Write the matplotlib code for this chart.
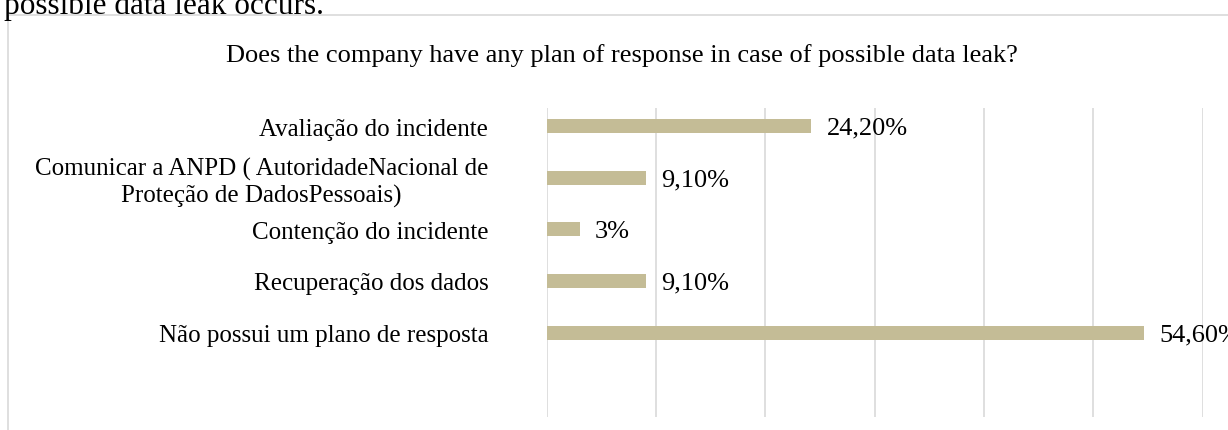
import matplotlib
matplotlib.use('Agg')
import matplotlib.pyplot as plt
import matplotlib.patches as mpatches
import numpy as np

plt.rcParams['font.family'] = ['Liberation Serif', 'DejaVu Serif']

categories = [
    'Avaliação do incidente',
    'Comunicar a ANPD ( AutoridadeNacional de\nProteção de DadosPessoais)',
    'Contenção do incidente',
    'Recuperação dos dados',
    'Não possui um plano de resposta',
]
values = [24.2, 9.1, 3.0, 9.1, 54.6]
value_labels = ['24,20%', '9,10%', '3%', '9,10%', '54,60%']

title = 'Does the company have any plan of response in case of possible data leak?'
top_text = 'possible data leak occurs.'

W, H = 1228, 431
fig = plt.figure(figsize=(W / 100, H / 100), dpi=100)

# outer border of the embedded chart
border = mpatches.Rectangle((7.5 / W, -0.1), 1.2, 1 - 15.5 / H + 0.1,
                            transform=fig.transFigure, fill=False,
                            edgecolor='#D9D9D9', linewidth=1.2)
fig.patches.append(border)

fig.text(4 / W, 1 - 14 / H, top_text, fontsize=22.5, va='baseline', ha='left')
fig.text(622 / W, 1 - 62 / H, title, fontsize=19, va='baseline', ha='center')

ax = fig.add_axes([546.7 / W, 1 - 418 / H, 656 / W, 309 / H])
y = np.arange(len(categories))
bars = ax.barh(y, values, height=0.27, color='#C4BC96')

ax.set_xlim(0, 60)
ax.set_ylim(5.634, -0.3485)
ax.set_xticks(np.arange(0, 61, 10))
ax.set_xticklabels([])
ax.tick_params(axis='x', length=0)
ax.grid(axis='x', color='#D9D9D9', linewidth=1.2)
ax.set_axisbelow(True)
for s in ax.spines.values():
    s.set_visible(False)

ax.set_yticks(y)
ax.set_yticklabels(categories, fontsize=18)
ax.tick_params(axis='y', length=0, pad=42)
for lab in ax.get_yticklabels():
    lab.set_multialignment('center')

for bar, lab in zip(bars, value_labels):
    ax.annotate(lab, xy=(bar.get_width(), bar.get_y() + bar.get_height() / 2),
                xytext=(11, -1), textcoords='offset points',
                ha='left', va='center', fontsize=19, annotation_clip=False)

fig.savefig('out.png', dpi=100)
